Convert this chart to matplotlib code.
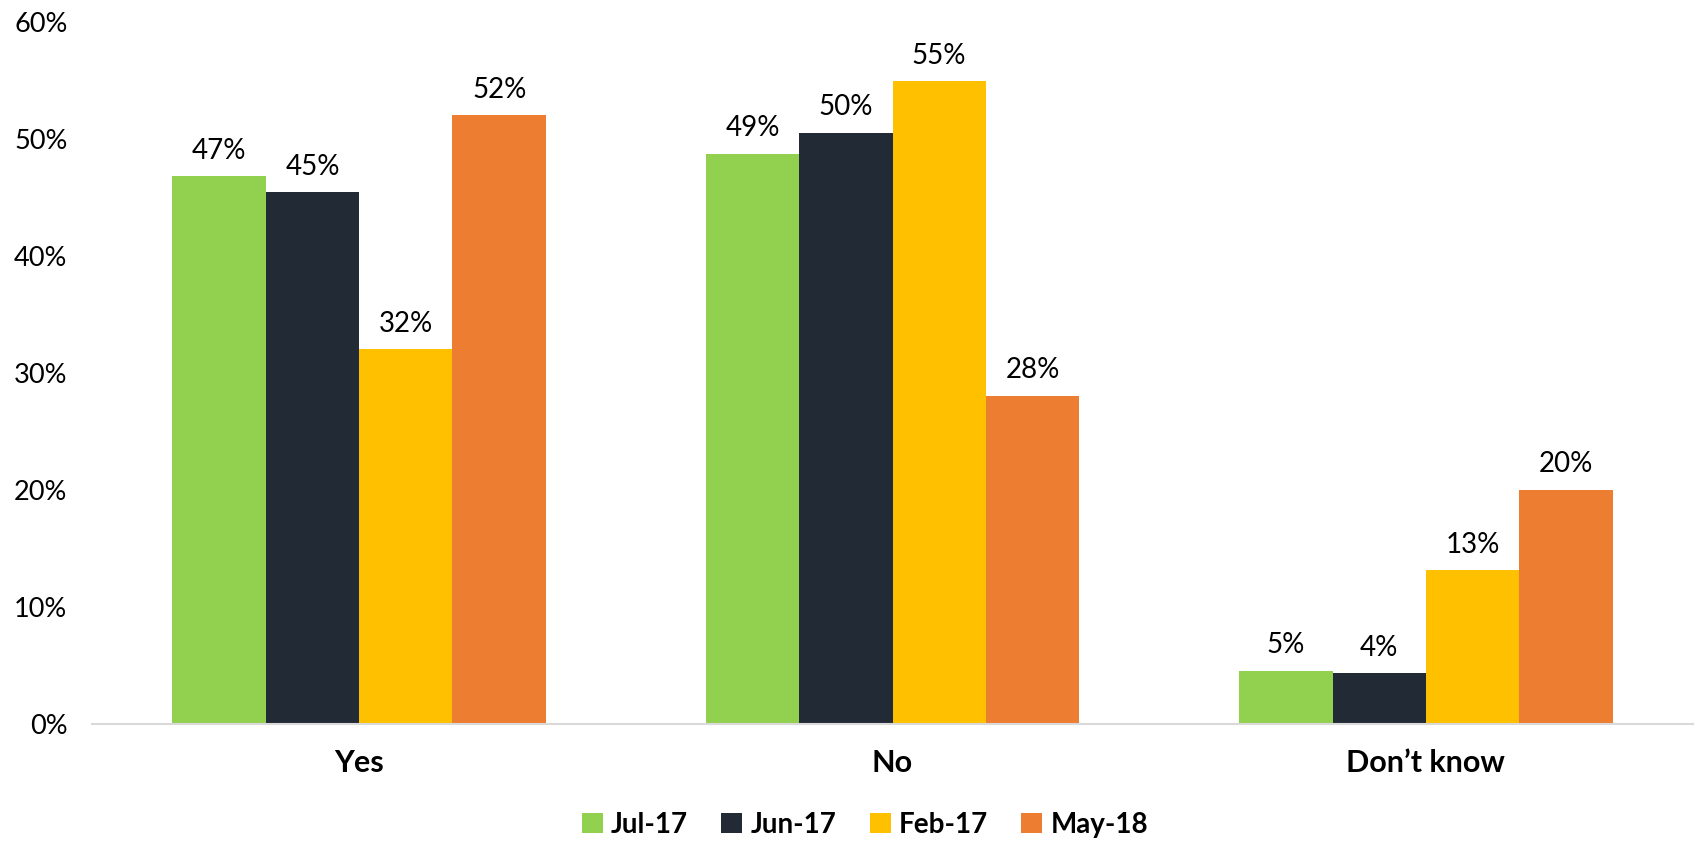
import matplotlib.pyplot as plt
import numpy as np

categories = ["Yes", "No", "Don\u2019t know"]
series_names = ["Jul-17", "Jun-17", "Feb-17", "May-18"]
jul17 = [46.8, 48.7, 4.5]
jun17 = [45.4, 50.5, 4.3]
feb17 = [32.0, 54.9, 13.1]
may18 = [52.0, 28.0, 20.0]
labels_jul17 = ["47%", "49%", "5%"]
labels_jun17 = ["45%", "50%", "4%"]
labels_feb17 = ["32%", "55%", "13%"]
labels_may18 = ["52%", "28%", "20%"]
y_ticks = [0, 10, 20, 30, 40, 50, 60]

colors = ["#92D050", "#222A35", "#FFC000", "#ED7D31"]
series = [jul17, jun17, feb17, may18]
series_labels = [labels_jul17, labels_jun17, labels_feb17, labels_may18]

plt.rcParams["font.family"] = ["Lato", "DejaVu Sans"]

fig = plt.figure(figsize=(16.96, 8.44), dpi=100)
ax = fig.add_axes([0.0545, 0.1427, 0.9435, 0.8317])

x = np.arange(len(categories))
width = 0.175
for i, (vals, labs) in enumerate(zip(series, series_labels)):
    pos = x + (i - 1.5) * width
    bars = ax.bar(pos, vals, width, color=colors[i], label=series_names[i])
    ax.bar_label(bars, labels=labs, padding=9, fontsize=20)

ax.set_xlim(-0.5, 2.5)
ax.set_ylim(0, 60)
ax.set_yticks(y_ticks)
ax.set_yticklabels([f"{t}%" for t in y_ticks], fontsize=19.5)
ax.set_xticks(x)
ax.set_xticklabels(categories, fontsize=22, fontweight="bold")
ax.tick_params(axis="y", length=0, pad=18)
ax.tick_params(axis="x", length=0, pad=18)

for s in ["top", "right", "left"]:
    ax.spines[s].set_visible(False)
ax.spines["bottom"].set_color("#d9d9d9")
ax.spines["bottom"].set_linewidth(1.5)

fig.legend(loc="center", bbox_to_anchor=(0.51, 0.0225), ncol=4, frameon=False,
           prop={"size": 20, "weight": "bold"}, handlelength=0.75, handleheight=0.75,
           handletextpad=0.3, columnspacing=1.2)

fig.savefig("out.png", dpi=100)
